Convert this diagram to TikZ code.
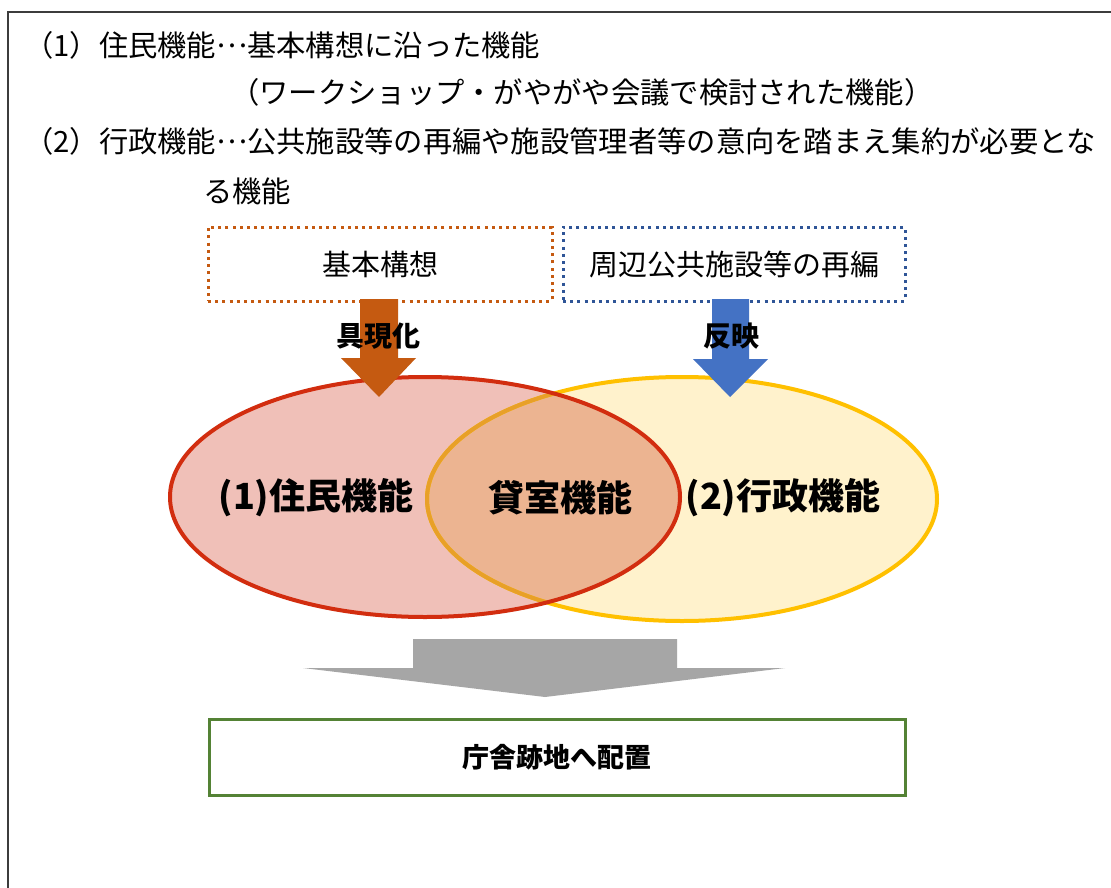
\documentclass[tikz,border=0pt]{standalone}
\usepackage{fontspec}
\setmainfont{Noto Sans CJK JP}
\newfontfamily\cjk{Noto Sans CJK JP}
\definecolor{framec}{RGB}{60,60,60}
\definecolor{orng}{RGB}{197,90,17}
\definecolor{dblue}{RGB}{47,85,151}
\definecolor{ablue}{RGB}{68,114,196}
\definecolor{redline}{RGB}{210,45,15}
\definecolor{pinkfill}{RGB}{240,192,184}
\definecolor{gold}{RGB}{255,192,0}
\definecolor{goldfill}{RGB}{255,242,204}
\definecolor{overlapfill}{RGB}{236,180,145}
\definecolor{overlapline}{RGB}{232,160,40}
\definecolor{grayarrow}{RGB}{166,166,166}
\definecolor{greenbox}{RGB}{84,130,53}
\newcommand{\middots}{\raisebox{0.33em}{…}}
\tikzset{
  bodytext/.style={anchor=base west, inner sep=0pt, font=\cjk\fontsize{29.3}{34}\selectfont},
  dotbox/.style={line width=3pt, dash pattern=on 3pt off 4.2pt, inner sep=0pt, minimum height=74pt, font=\cjk\fontsize{29}{34}\selectfont},
  arrowlabel/.style={inner sep=0pt, font=\cjk\bfseries\fontsize{28}{32}\selectfont},
  circlabel/.style={inner sep=0pt, font=\cjk\bfseries\fontsize{36}{40}\selectfont}
}
\begin{document}
\begin{tikzpicture}[x=1pt,y=-1pt]
\useasboundingbox (0,0) rectangle (1111,888);
\fill[white] (0,0) rectangle (1111,888);
\draw[framec, line width=1.6pt] (8,900) -- (8,12) -- (1125,12);

% text lines
\node[bodytext] (l1) at (24,57) {（1）住民機能\middots 基本構想に沿った機能};
\node[bodytext] (l2) at (230,104) {（ワークショップ・がやがや会議で検討された機能）};
\node[bodytext] (l3) at (24,153) {（2）行政機能\middots 公共施設等の再編や施設管理者等の意向を踏まえ集約が必要とな};
\node[bodytext] (l4) at (203,202) {る機能};

% dotted boxes
\node[dotbox, draw=orng, minimum width=344pt] (kihon) at (380,264) {基本構想};
\node[dotbox, draw=dblue, minimum width=342pt] (shuhen) at (734,264) {周辺公共施設等の再編};

% ellipses
\fill[goldfill] (682,499) ellipse [x radius=255, y radius=122];
\fill[pinkfill] (425,497) ellipse [x radius=255, y radius=120];
\begin{scope}
  \clip (425,497) ellipse [x radius=255, y radius=120];
  \fill[overlapfill] (682,499) ellipse [x radius=255, y radius=122];
\end{scope}
\draw[gold, line width=4pt] (682,499) ellipse [x radius=255, y radius=122];
\begin{scope}
  \clip (425,497) ellipse [x radius=255, y radius=120];
  \draw[overlapline, line width=4pt] (682,499) ellipse [x radius=255, y radius=122];
\end{scope}
\draw[redline, line width=4pt] (425,497) ellipse [x radius=255, y radius=120];

\node[circlabel] (jumin) at (316,498) {(1)住民機能};
\node[circlabel] (kashi) at (560,498) {貸室機能};
\node[circlabel] (gyosei) at (783,498) {(2)行政機能};

% block arrows
\fill[orng] (360,299) -- (398,299) -- (398,358) -- (416,358) -- (379,397) -- (341,358) -- (360,358) -- cycle;
\fill[ablue] (712,299) -- (749,299) -- (749,359) -- (768,359) -- (730,397) -- (693,359) -- (712,359) -- cycle;
\node[arrowlabel] (gugen) at (378,336) {具現化};
\node[arrowlabel] (hanei) at (731,336) {反映};

% gray arrow
\fill[grayarrow] (413,639) -- (677,639) -- (677,668) -- (785,668) -- (545,697) -- (303,668) -- (413,668) -- cycle;

% green box
\node[draw=greenbox, line width=3pt, minimum width=696pt, minimum height=76pt, inner sep=0pt,
      font=\cjk\bfseries\fontsize{27}{32}\selectfont] (haichi) at (557,757) {庁舎跡地へ配置};
\end{tikzpicture}
\end{document}
